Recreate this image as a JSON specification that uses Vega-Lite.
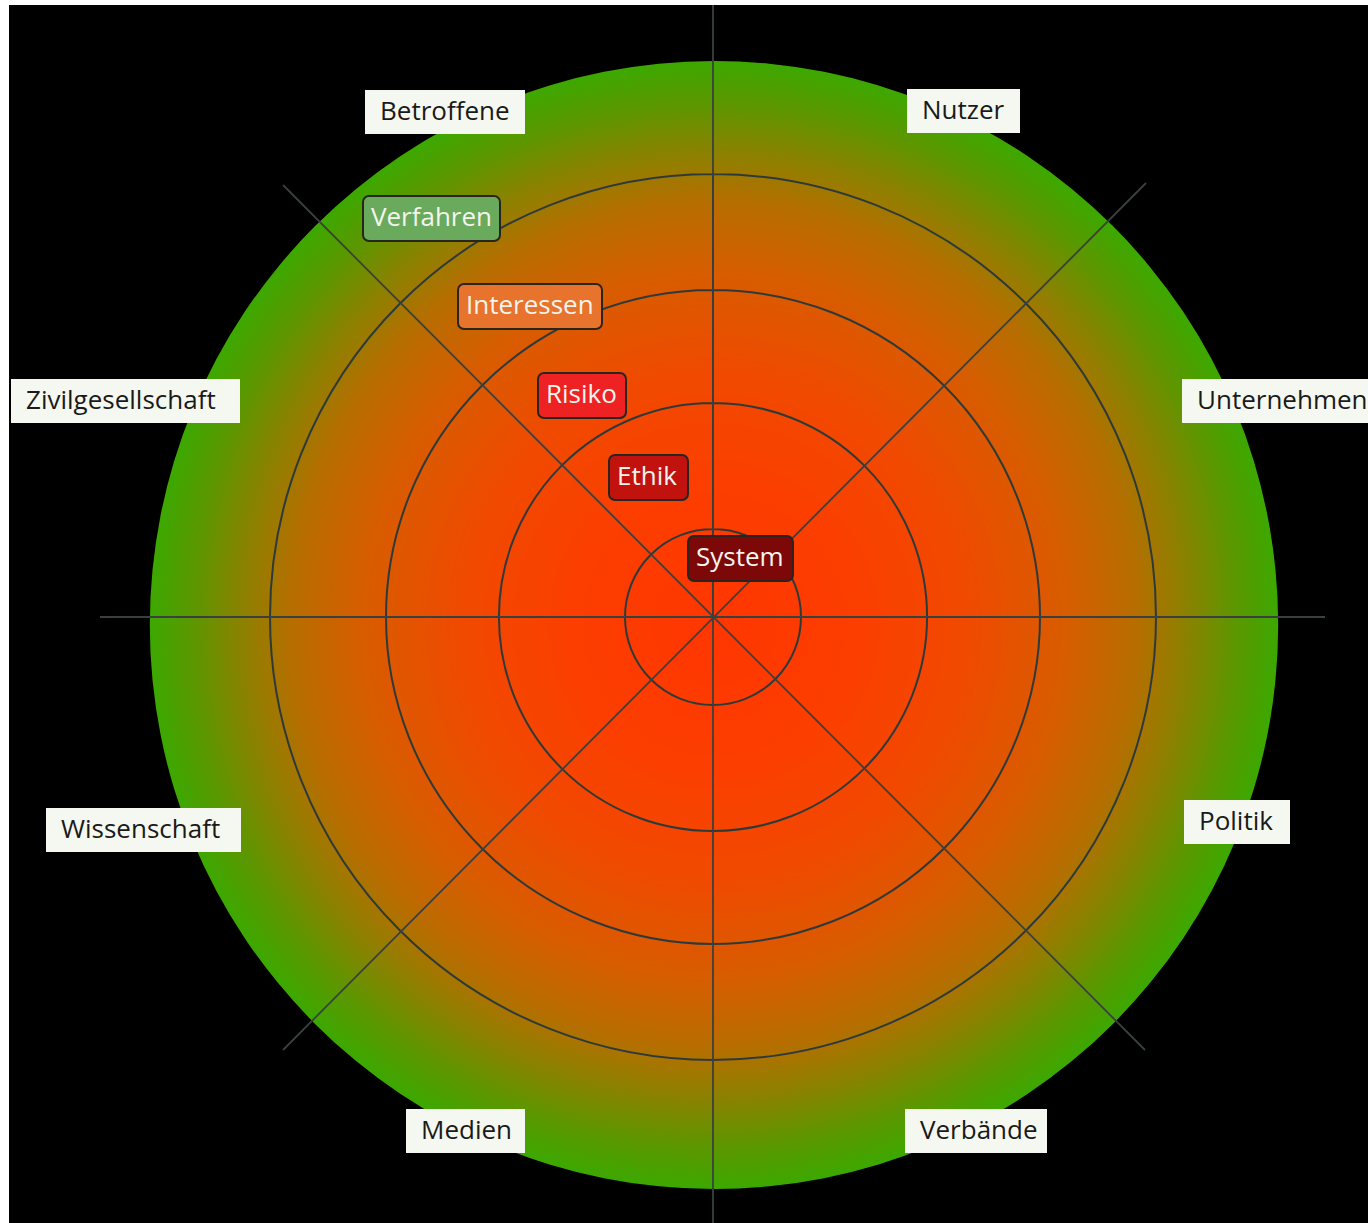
{
  "$schema": "https://vega.github.io/schema/vega-lite/v6.json",
  "width": 1359,
  "height": 1218,
  "autosize": {"type": "none"},
  "padding": {"left": 9, "top": 5, "right": 0, "bottom": 0},
  "background": "white",
  "config": {"view": {"fill": "black", "stroke": null}},
  "datasets": {
    "disc": [{"cx": 1, "cy": -8, "r": 564}],
    "rings": [{"r": 88}, {"r": 214}, {"r": 327}, {"r": 443}],
    "spokes": [
      {"x": -613, "y": 0, "x2": 612, "y2": 0},
      {"x": 0, "y": 612, "x2": 0, "y2": -606},
      {"x": -430, "y": 432, "x2": 432, "y2": -433},
      {"x": -430, "y": -433, "x2": 433, "y2": 434}
    ],
    "outer": [
      {"label": "Betroffene", "x1": -348, "x2": -188, "y1": 483, "y2": 527},
      {"label": "Nutzer", "x1": 194, "x2": 307, "y1": 484, "y2": 528},
      {"label": "Zivilgesellschaft", "x1": -702, "x2": -473, "y1": 194, "y2": 238},
      {"label": "Unternehmen", "x1": 469, "x2": 655, "y1": 194, "y2": 238},
      {"label": "Wissenschaft", "x1": -667, "x2": -472, "y1": -235, "y2": -191},
      {"label": "Politik", "x1": 471, "x2": 577, "y1": -227, "y2": -183},
      {"label": "Medien", "x1": -307, "x2": -188, "y1": -536, "y2": -492},
      {"label": "Verbände", "x1": 192, "x2": 334, "y1": -536, "y2": -492}
    ],
    "inner": [
      {"label": "Verfahren", "x1": -350, "x2": -213, "y1": 376, "y2": 421},
      {"label": "Interessen", "x1": -255, "x2": -111, "y1": 288, "y2": 333},
      {"label": "Risiko", "x1": -175, "x2": -87, "y1": 199, "y2": 244},
      {"label": "Ethik", "x1": -104, "x2": -25, "y1": 117, "y2": 162},
      {"label": "System", "x1": -25, "x2": 80, "y1": 36, "y2": 81}
    ]
  },
  "layer": [
    {
      "data": {"name": "disc"},
      "mark": {
        "type": "arc",
        "theta": 0,
        "theta2": 6.283185307,
        "fill": {
          "gradient": "radial",
          "x1": 0.5, "y1": 0.5, "r1": 0,
          "x2": 0.5, "y2": 0.5, "r2": 0.5,
          "stops": [
            {"offset": 0, "color": "#ff3600"},
            {"offset": 0.25, "color": "#fc3e00"},
            {"offset": 0.45, "color": "#f04a00"},
            {"offset": 0.62, "color": "#d85c00"},
            {"offset": 0.75, "color": "#b66e00"},
            {"offset": 0.84, "color": "#8a8200"},
            {"offset": 0.92, "color": "#5e9600"},
            {"offset": 1, "color": "#3ca800"}
          ]
        },
        "stroke": null
      },
      "encoding": {
        "x": {"field": "cx", "type": "quantitative", "scale": {"domain": [-704, 655], "nice": false, "zero": false}, "axis": null},
        "y": {"field": "cy", "type": "quantitative", "scale": {"domain": [-606, 612], "nice": false, "zero": false}, "axis": null},
        "radius": {"field": "r", "type": "quantitative", "stack": null, "scale": {"type": "linear", "domain": [0, 564], "range": [0, 564], "zero": true}}
      }
    },
    {
      "data": {"name": "rings"},
      "mark": {"type": "arc", "theta": 0, "theta2": 6.283185307, "fill": null, "fillOpacity": 0, "stroke": "#2e3a3a", "strokeWidth": 2},
      "encoding": {
        "x": {"datum": 0, "type": "quantitative"},
        "y": {"datum": 0, "type": "quantitative"},
        "radius": {"field": "r", "type": "quantitative", "stack": null}
      }
    },
    {
      "data": {"name": "spokes"},
      "mark": {"type": "rule", "stroke": "#3a4040", "strokeWidth": 1.8},
      "encoding": {
        "x": {"field": "x", "type": "quantitative"},
        "y": {"field": "y", "type": "quantitative"},
        "x2": {"field": "x2"},
        "y2": {"field": "y2"}
      }
    },
    {
      "data": {"name": "outer"},
      "mark": {"type": "rect", "fill": "#f5f8f0", "stroke": null},
      "encoding": {
        "x": {"field": "x1", "type": "quantitative"},
        "x2": {"field": "x2"},
        "y": {"field": "y1", "type": "quantitative"},
        "y2": {"field": "y2"}
      }
    },
    {
      "data": {"name": "outer"},
      "mark": {"type": "text", "font": "Open Sans", "fontSize": 26, "color": "#1a1a1a", "align": "left", "baseline": "middle", "dx": 15, "dy": 22},
      "encoding": {
        "x": {"field": "x1", "type": "quantitative"},
        "y": {"field": "y2", "type": "quantitative"},
        "text": {"field": "label"}
      }
    },
    {
      "data": {"name": "inner"},
      "mark": {"type": "rect", "cornerRadius": 6, "stroke": "#2a2420", "strokeWidth": 2},
      "encoding": {
        "x": {"field": "x1", "type": "quantitative"},
        "x2": {"field": "x2"},
        "y": {"field": "y1", "type": "quantitative"},
        "y2": {"field": "y2"},
        "fill": {
          "field": "label", "type": "nominal", "legend": null,
          "scale": {"domain": ["Verfahren", "Interessen", "Risiko", "Ethik", "System"], "range": ["#6aaa5c", "#e8732c", "#ee2222", "#c2120e", "#7c0808"]}
        }
      }
    },
    {
      "data": {"name": "inner"},
      "mark": {"type": "text", "font": "Open Sans", "fontSize": 26, "color": "#f4f4ec", "align": "left", "baseline": "middle", "dx": 8, "dy": 22},
      "encoding": {
        "x": {"field": "x1", "type": "quantitative"},
        "y": {"field": "y2", "type": "quantitative"},
        "text": {"field": "label"}
      }
    }
  ]
}
